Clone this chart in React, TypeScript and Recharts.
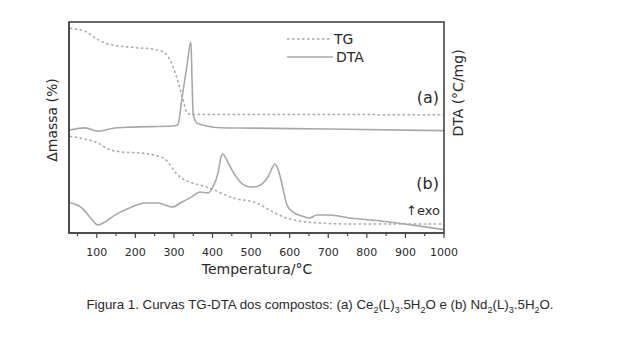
import React from "react";
import { LineChart, Line, XAxis, YAxis } from "recharts";

// temperature (°C) / signal (arbitrary units, 0-100)
const tgATemp = [30, 70, 100, 130, 190, 250, 275, 295, 310, 322, 334, 345, 500, 1000];
const tgAVal = [97, 95.5, 92, 89.5, 88, 87, 85.5, 80, 72, 64.5, 57, 56.2, 56.2, 56];

const dtaATemp = [30, 70, 103, 147, 190, 295, 310, 321, 334, 344, 347, 350, 360, 385, 420, 500, 700, 1000];
const dtaAVal = [48.8, 49.8, 48.3, 49.8, 50.2, 50.7, 51.2, 64, 79.6, 90.5, 72, 56, 52.1, 50.7, 49.9, 49.7, 49.3, 48.5];

const tgBTemp = [30, 70, 103, 129, 165, 212, 259, 285, 303, 328, 341, 393, 453, 515, 556, 600, 678, 750, 1000];
const tgBVal = [45.8, 44.5, 42.7, 39.8, 38.4, 37.9, 36.5, 33.6, 28.9, 25.1, 24.2, 21.3, 16.6, 14.2, 10, 6.6, 4.7, 4.3, 4.3];

const dtaBTemp = [30, 62, 82, 103, 116, 147, 191, 225, 259, 295, 321, 346, 367, 388, 401, 415, 422, 427, 432, 440, 453, 466, 479, 497, 515, 530, 545, 555, 562, 568, 575, 585, 593, 608, 634, 652, 670, 704, 756, 841, 929, 1000];
const dtaBVal = [14.5, 11.8, 7.6, 3.8, 4.7, 8.5, 12.3, 14.2, 14.2, 12.3, 14.7, 17.1, 19.4, 19, 21.8, 29, 36, 37.4, 36.3, 33.5, 29, 25.5, 23, 21.8, 22, 23.5, 27, 31, 32.7, 31, 27, 19, 13.3, 10, 7.9, 7.1, 8.5, 8.5, 7.1, 5.6, 3.5, 1.6];

const xTicks = [50, 100, 150, 200, 250, 300, 350, 400, 450, 500, 550, 600, 650, 700, 750, 800, 850, 900, 950, 1000];

const zip = (t: number[], v: number[]) => t.map((x, i) => ({ t: x, v: v[i] }));
const tgA = zip(tgATemp, tgAVal);
const dtaA = zip(dtaATemp, dtaAVal);
const tgB = zip(tgBTemp, tgBVal);
const dtaB = zip(dtaBTemp, dtaBVal);

const FRAME = "#444";
const CURVE = "#a8a8a8";
const TEXT = "#2a2a2a";
const FONT = "DejaVu Sans, sans-serif";

const XTick = (props: any) => {
  const { x, y, payload } = props;
  const major = payload.value % 100 === 0;
  return (
    <g>
      <line x1={x} x2={x} y1={y} y2={y + (major ? 5 : 3)} stroke={FRAME} strokeWidth={1.2} />
      {major && (
        <text x={x} y={y + 23} textAnchor="middle" fontSize={11} fontFamily={FONT} fill={TEXT}>
          {payload.value}
        </text>
      )}
    </g>
  );
};

export default function App() {
  return (
    <div style={{ position: "absolute", left: 0, top: 0, width: 640, height: 352, background: "#fff" }}>
      <LineChart width={640} height={352} margin={{ top: 22, left: 68, right: 196, bottom: 89 }}>
        <XAxis
          dataKey="t"
          type="number"
          domain={[28, 1000]}
          allowDataOverflow
          ticks={xTicks}
          interval={0}
          height={30}
          tickSize={0}
          tickMargin={0}
          tickLine={false}
          tick={<XTick />}
          axisLine={{ stroke: FRAME, strokeWidth: 1.5 }}
        />
        <YAxis
          type="number"
          domain={[0, 100]}
          allowDataOverflow
          width={1}
          tick={false}
          tickLine={false}
          axisLine={{ stroke: FRAME, strokeWidth: 1.5 }}
        />
        <Line data={tgA} dataKey="v" type="monotone" stroke={CURVE} strokeWidth={1.5} strokeDasharray="2.5 2.5" dot={false} isAnimationActive={false} />
        <Line data={dtaA} dataKey="v" type="monotone" stroke={CURVE} strokeWidth={1.6} dot={false} isAnimationActive={false} />
        <Line data={tgB} dataKey="v" type="monotone" stroke={CURVE} strokeWidth={1.5} strokeDasharray="2.5 2.5" dot={false} isAnimationActive={false} />
        <Line data={dtaB} dataKey="v" type="monotone" stroke={CURVE} strokeWidth={1.6} dot={false} isAnimationActive={false} />
      </LineChart>

      <svg width={640} height={352} style={{ position: "absolute", left: 0, top: 0, pointerEvents: "none" }}>
        {/* box around the plot area */}
        <rect x={69} y={22} width={375} height={211} fill="none" stroke={FRAME} strokeWidth={1.6} />
        <g fontFamily={FONT} fill={TEXT}>
          <text x={52} y={120} fontSize={14} textAnchor="middle" dominantBaseline="central" transform="rotate(-90 52 120)">
            Δmassa (%)
          </text>
          <text x={458} y={93} fontSize={14} textAnchor="middle" dominantBaseline="central" transform="rotate(-90 458 93)">
            DTA (°C/mg)
          </text>
          <text x={257} y={274} fontSize={14} textAnchor="middle">
            Temperatura/°C
          </text>

          <line x1={287} x2={332} y1={39} y2={39} stroke={CURVE} strokeWidth={1.5} strokeDasharray="2.5 2.5" />
          <text x={334} y={44} fontSize={14}>TG</text>
          <line x1={287} x2={333} y1={57} y2={57} stroke={CURVE} strokeWidth={1.6} />
          <text x={336} y={62} fontSize={14}>DTA</text>

          <text x={439} y={103} fontSize={16} textAnchor="end">(a)</text>
          <text x={439} y={189} fontSize={16} textAnchor="end">(b)</text>
          <text x={440} y={215} fontSize={13} textAnchor="end">↑exo</text>
        </g>
      </svg>

      <div
        style={{
          position: "absolute",
          left: 0,
          width: 640,
          top: 296,
          textAlign: "center",
          fontFamily: "Liberation Sans, Arial, sans-serif",
          fontSize: 13.3,
          color: TEXT,
          lineHeight: "17px",
          whiteSpace: "nowrap",
        }}
      >
        Figura 1. Curvas TG-DTA dos compostos: (a) Ce<sub style={{ fontSize: 9 }}>2</sub>(L)
        <sub style={{ fontSize: 9 }}>3</sub>.5H<sub style={{ fontSize: 9 }}>2</sub>O e (b) Nd
        <sub style={{ fontSize: 9 }}>2</sub>(L)<sub style={{ fontSize: 9 }}>3</sub>.5H
        <sub style={{ fontSize: 9 }}>2</sub>O.
      </div>
    </div>
  );
}
